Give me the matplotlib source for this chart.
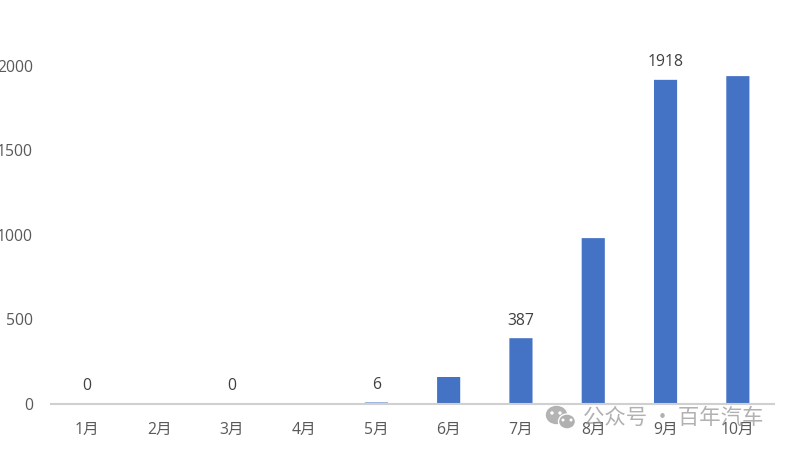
import matplotlib
matplotlib.use('Agg')
import matplotlib.pyplot as plt
from matplotlib.patches import Ellipse

plt.rcParams['font.family'] = ['Open Sans', 'Noto Sans CJK SC', 'DejaVu Sans']

months = ['1月', '2月', '3月', '4月', '5月', '6月', '7月', '8月', '9月', '10月']
values = [0, 0, 0, 0, 6, 157, 387, 980, 1918, 1940]
# only some bars carry a label in the original
shown_labels = {0: '0', 2: '0', 4: '6', 6: '387', 8: '1918'}
y_ticks = [0, 500, 1000, 1500, 2000]

W, H = 789, 450
fig = plt.figure(figsize=(W / 100, H / 100), dpi=100)

# axes placed so that 0 sits at y=403.5 and 2000 at y=66 in pixels
ax = fig.add_axes([51 / W, (H - 403.5) / H, (774 - 51) / W, (403.5 - 66) / H])
x = list(range(1, 11))
bars = ax.bar(x, values, width=0.32, color='#4472C4', zorder=2)
for b in bars:
    b.set_snap(False)
ax.set_xlim(0.5, 10.5)
ax.set_ylim(0, 2000)
ax.set_xticks(x)
ax.set_xticklabels(months, fontsize=11.3, color='#595959')
ax.set_yticks(y_ticks)
ax.set_yticklabels([str(v) for v in y_ticks], fontsize=11.3, color='#595959')
ax.tick_params(axis='both', length=0)
ax.tick_params(axis='x', pad=13)
ax.tick_params(axis='y', pad=13)
for name in ['top', 'left', 'right']:
    ax.spines[name].set_visible(False)
ax.spines['bottom'].set_color('#D0D0D0')
ax.spines['bottom'].set_linewidth(1.5)
ax.spines['bottom'].set_zorder(3)

# data labels
for i, txt in shown_labels.items():
    ax.annotate(txt, (x[i], values[i]), xytext=(0, 12.5), textcoords='offset points',
                ha='center', va='center', fontsize=11.3, color='#404040')

# watermark layer in pixel coordinates
over = fig.add_axes([0, 0, 1, 1], facecolor='none')
over.set_xlim(0, W)
over.set_ylim(H, 0)
over.axis('off')
over.add_patch(Ellipse((556.5, 415), 20, 17, color='#B0B0B0', alpha=0.95))
over.add_patch(Ellipse((567, 421.5), 17, 15, facecolor='#B0B0B0', edgecolor='white', linewidth=1))
for ex, ey, s in [(552, 413, 2), (560, 413, 2), (563, 420, 1.6), (571, 420, 1.6)]:
    over.add_patch(Ellipse((ex, ey), s, s, color='white'))
over.text(583, 418, '公众号 · 百年汽车', fontsize=15.4, color='#909090', alpha=0.7,
          ha='left', va='center', family=['Noto Sans CJK SC', 'DejaVu Sans'])

fig.savefig('out.png', dpi=100)
